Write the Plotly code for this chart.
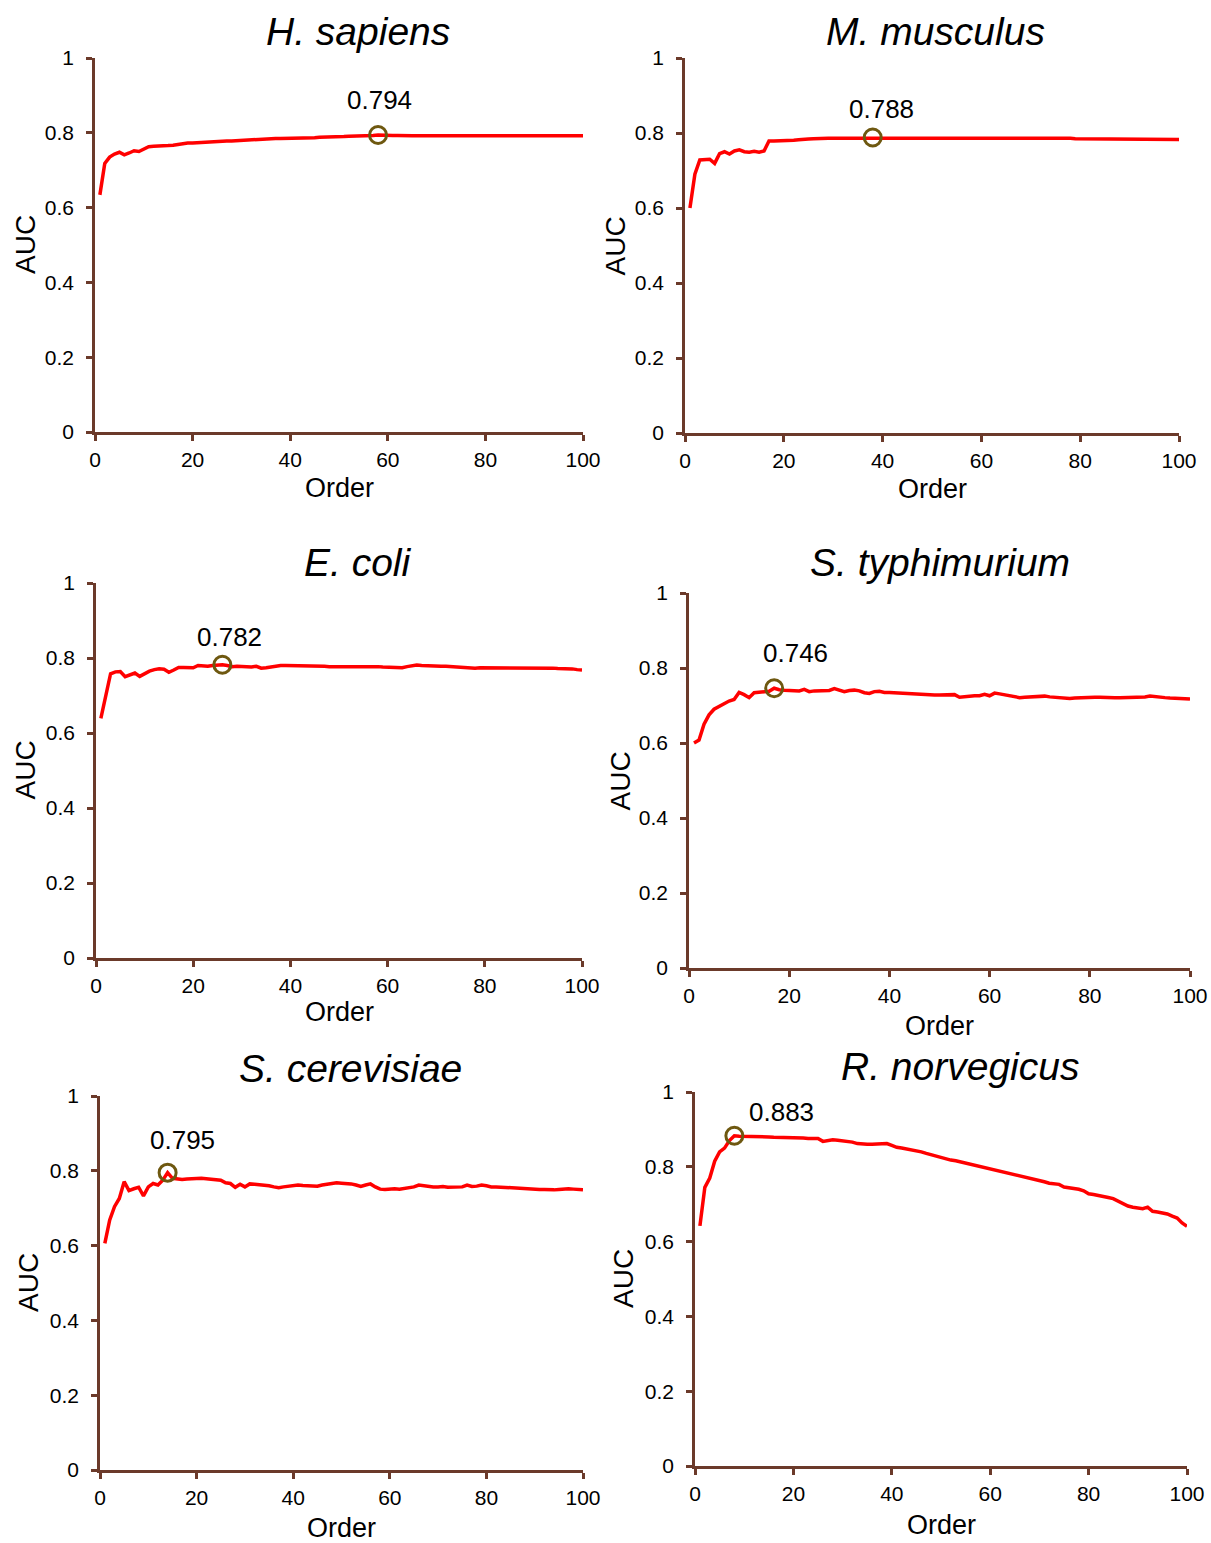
import plotly.graph_objects as go

# AUC versus model order for six species
order = list(range(1, 101))

species = ["H. sapiens", "M. musculus", "E. coli",
           "S. typhimurium", "S. cerevisiae", "R. norvegicus"]

auc_h_sapiens = [
    0.634, 0.718, 0.735, 0.743, 0.748, 0.741, 0.746, 0.752, 0.750, 0.757,
    0.763, 0.764, 0.764, 0.765, 0.766, 0.767, 0.769, 0.772, 0.773, 0.773,
    0.774, 0.774, 0.775, 0.776, 0.776, 0.777, 0.778, 0.778, 0.779, 0.779,
    0.780, 0.781, 0.782, 0.784, 0.784, 0.784, 0.785, 0.785, 0.785, 0.786,
    0.786, 0.786, 0.787, 0.787, 0.787, 0.788, 0.788, 0.788, 0.789, 0.790,
    0.790, 0.791, 0.791, 0.791, 0.792, 0.793, 0.793, 0.794, 0.793, 0.793,
    0.793, 0.793, 0.792, 0.792, 0.792, 0.792, 0.793, 0.792, 0.792, 0.792,
    0.792, 0.792, 0.792, 0.792, 0.792, 0.792, 0.793, 0.792, 0.792, 0.792,
    0.792, 0.792, 0.792, 0.792, 0.793, 0.793, 0.793, 0.793, 0.793, 0.793,
    0.793, 0.793, 0.793, 0.793, 0.793, 0.793, 0.793, 0.792, 0.792, 0.792,
]

auc_m_musculus = [
    0.600, 0.690, 0.728, 0.729, 0.730, 0.719, 0.745, 0.750, 0.744, 0.752,
    0.755, 0.750, 0.749, 0.751, 0.749, 0.752, 0.779, 0.779, 0.779, 0.779,
    0.780, 0.781, 0.782, 0.782, 0.784, 0.785, 0.786, 0.786, 0.786, 0.786,
    0.786, 0.787, 0.787, 0.787, 0.787, 0.787, 0.788, 0.788, 0.787, 0.787,
    0.787, 0.787, 0.786, 0.786, 0.786, 0.787, 0.787, 0.787, 0.787, 0.787,
    0.787, 0.787, 0.787, 0.787, 0.787, 0.787, 0.787, 0.787, 0.787, 0.787,
    0.787, 0.787, 0.787, 0.787, 0.787, 0.787, 0.787, 0.787, 0.787, 0.787,
    0.787, 0.787, 0.787, 0.787, 0.787, 0.786, 0.786, 0.786, 0.785, 0.785,
    0.785, 0.785, 0.785, 0.785, 0.785, 0.784, 0.784, 0.784, 0.784, 0.784,
    0.784, 0.784, 0.784, 0.784, 0.783, 0.783, 0.783, 0.783, 0.783, 0.783,
]

auc_e_coli = [
    0.639, 0.700, 0.758, 0.763, 0.764, 0.750, 0.756, 0.760, 0.751, 0.758,
    0.765, 0.769, 0.771, 0.770, 0.762, 0.768, 0.775, 0.775, 0.775, 0.774,
    0.780, 0.778, 0.778, 0.780, 0.781, 0.782, 0.780, 0.777, 0.778, 0.777,
    0.776, 0.776, 0.778, 0.773, 0.774, 0.776, 0.779, 0.780, 0.780, 0.780,
    0.779, 0.780, 0.780, 0.780, 0.779, 0.778, 0.778, 0.777, 0.777, 0.778,
    0.779, 0.779, 0.779, 0.779, 0.778, 0.778, 0.777, 0.777, 0.776, 0.776,
    0.775, 0.774, 0.774, 0.777, 0.779, 0.781, 0.780, 0.779, 0.779, 0.778,
    0.778, 0.778, 0.777, 0.776, 0.776, 0.775, 0.773, 0.773, 0.774, 0.774,
    0.774, 0.773, 0.773, 0.774, 0.774, 0.773, 0.774, 0.775, 0.775, 0.774,
    0.774, 0.774, 0.773, 0.773, 0.772, 0.772, 0.772, 0.771, 0.769, 0.768,
]

auc_s_typhimurium = [
    0.600, 0.608, 0.650, 0.675, 0.690, 0.697, 0.703, 0.712, 0.716, 0.735,
    0.729, 0.721, 0.734, 0.735, 0.737, 0.738, 0.746, 0.742, 0.741, 0.740,
    0.740, 0.739, 0.743, 0.737, 0.739, 0.740, 0.740, 0.740, 0.745, 0.741,
    0.737, 0.740, 0.741, 0.739, 0.734, 0.732, 0.737, 0.738, 0.735, 0.735,
    0.734, 0.733, 0.732, 0.732, 0.731, 0.730, 0.729, 0.728, 0.728, 0.728,
    0.728, 0.729, 0.729, 0.722, 0.724, 0.725, 0.726, 0.726, 0.730, 0.726,
    0.733, 0.731, 0.728, 0.725, 0.723, 0.721, 0.722, 0.723, 0.723, 0.724,
    0.725, 0.723, 0.722, 0.722, 0.719, 0.719, 0.720, 0.721, 0.722, 0.723,
    0.722, 0.722, 0.721, 0.721, 0.721, 0.721, 0.721, 0.721, 0.721, 0.722,
    0.723, 0.725, 0.723, 0.721, 0.721, 0.720, 0.720, 0.719, 0.718, 0.717,
]

auc_s_cerevisiae = [
    0.606, 0.668, 0.704, 0.726, 0.771, 0.747, 0.752, 0.756, 0.733, 0.757,
    0.766, 0.762, 0.775, 0.795, 0.780, 0.778, 0.777, 0.778, 0.779, 0.779,
    0.780, 0.779, 0.778, 0.777, 0.775, 0.768, 0.766, 0.756, 0.764, 0.757,
    0.765, 0.764, 0.763, 0.762, 0.760, 0.757, 0.755, 0.757, 0.759, 0.761,
    0.762, 0.761, 0.761, 0.760, 0.759, 0.762, 0.764, 0.767, 0.768, 0.767,
    0.767, 0.765, 0.762, 0.758, 0.762, 0.765, 0.757, 0.751, 0.750, 0.752,
    0.752, 0.751, 0.753, 0.753, 0.757, 0.762, 0.760, 0.758, 0.757, 0.757,
    0.758, 0.756, 0.757, 0.756, 0.757, 0.762, 0.758, 0.759, 0.762, 0.760,
    0.757, 0.757, 0.756, 0.755, 0.755, 0.754, 0.753, 0.753, 0.752, 0.751,
    0.750, 0.750, 0.749, 0.749, 0.750, 0.752, 0.752, 0.751, 0.750, 0.749,
]

auc_r_norvegicus = [
    0.642, 0.745, 0.770, 0.815, 0.840, 0.850, 0.870, 0.883, 0.882, 0.882,
    0.882, 0.881, 0.881, 0.880, 0.880, 0.879, 0.879, 0.879, 0.878, 0.878,
    0.877, 0.877, 0.876, 0.876, 0.876, 0.868, 0.870, 0.872, 0.871, 0.870,
    0.869, 0.866, 0.862, 0.860, 0.860, 0.860, 0.860, 0.860, 0.862, 0.857,
    0.852, 0.850, 0.848, 0.846, 0.844, 0.840, 0.836, 0.832, 0.828, 0.824,
    0.821, 0.818, 0.816, 0.813, 0.810, 0.806, 0.803, 0.799, 0.796, 0.794,
    0.792, 0.789, 0.786, 0.782, 0.778, 0.776, 0.774, 0.771, 0.767, 0.764,
    0.760, 0.756, 0.755, 0.753, 0.746, 0.744, 0.743, 0.740, 0.736, 0.728,
    0.726, 0.724, 0.721, 0.718, 0.715, 0.708, 0.700, 0.695, 0.692, 0.689,
    0.688, 0.692, 0.681, 0.679, 0.676, 0.674, 0.668, 0.663, 0.650, 0.641,
]

series = [auc_h_sapiens, auc_m_musculus, auc_e_coli,
          auc_s_typhimurium, auc_s_cerevisiae, auc_r_norvegicus]

# order at which each species reaches its best AUC
best_order = [58, 38, 26, 17, 14, 8]

x_ticks = [0, 20, 40, 60, 80, 100]
y_ticks = [0, 0.2, 0.4, 0.6, 0.8, 1]

W, H = 1211, 1543

# plot boxes in pixels: left, right, top, bottom
boxes = [
    (95, 583, 58, 432),
    (685, 1179, 58, 433),
    (96, 582, 583, 958),
    (689, 1190, 593, 968),
    (100, 583, 1096, 1470),
    (695, 1187, 1092, 1466),
]
title_pos = [(358, 32), (935, 32), (358, 562), (940, 562), (350, 1068), (960, 1066)]
order_label_dy = [56, 56, 54, 58, 58, 59]
auc_label_dx = [70, 70, 71, 69, 72, 72]
# pixel offsets of value labels from their markers
value_label_shift = [(1, 35), (9, 28), (7, 28), (21, 35), (15, 33), (47, 24)]

FONT = "Liberation Sans, Arial, sans-serif"
AXIS_COLOR = "#6B3A2A"

fig = go.Figure()
layout = dict(
    template="none",
    width=W, height=H,
    margin=dict(l=0, r=0, t=0, b=0, pad=0),
    paper_bgcolor="white", plot_bgcolor="white",
    showlegend=False,
    font=dict(family=FONT, color="black"),
)
annotations = []

def px(x):
    return x / W

def py(y):
    return 1 - y / H

for i, (name, vals, best, box) in enumerate(zip(species, series, best_order, boxes)):
    n = i + 1
    xa = "x" if n == 1 else f"x{n}"
    ya = "y" if n == 1 else f"y{n}"
    l, r, t, b = box

    fig.add_trace(go.Scatter(
        x=order, y=vals, mode="lines",
        line=dict(color="#FF0000", width=3.5),
        xaxis=xa, yaxis=ya, hoverinfo="skip",
    ))
    best_val = vals[best - 1]
    fig.add_trace(go.Scatter(
        x=[best], y=[best_val], mode="markers",
        marker=dict(symbol="circle-open", size=17, color="#6E5810",
                    line=dict(width=3, color="#6E5810")),
        xaxis=xa, yaxis=ya, cliponaxis=False, hoverinfo="skip",
    ))
    dx, dy = value_label_shift[i]
    annotations.append(dict(
        x=best, y=best_val, xref=xa, yref=ya,
        text=f"{best_val:.3f}", showarrow=False,
        xshift=dx, yshift=dy,
        font=dict(size=26, family=FONT, color="black"),
    ))

    axis_common = dict(
        showline=True, linecolor=AXIS_COLOR, linewidth=2.5,
        ticks="outside", ticklen=6, tickwidth=2.5, tickcolor=AXIS_COLOR,
        showgrid=False, zeroline=False, mirror=False, automargin=False,
        tickfont=dict(size=21, family=FONT, color="black"),
    )
    layout["xaxis" if n == 1 else f"xaxis{n}"] = dict(
        axis_common, domain=[px(l), px(r)], range=[0, 100],
        tickvals=x_ticks, anchor=ya, ticklabelstandoff=1,
    )
    layout["yaxis" if n == 1 else f"yaxis{n}"] = dict(
        axis_common, domain=[py(b), py(t)], range=[0, 1],
        tickvals=y_ticks, ticktext=[f"{v:g}" for v in y_ticks], anchor=xa,
        ticklabelstandoff=8,
    )

    tx, ty = title_pos[i]
    annotations.append(dict(
        x=px(tx), y=py(ty), xref="paper", yref="paper",
        text=f"<i>{name}</i>", showarrow=False,
        xanchor="center", yanchor="middle",
        font=dict(size=39, family=FONT, color="black"),
    ))
    annotations.append(dict(
        x=px((l + r) / 2), y=py(b + order_label_dy[i]), xref="paper", yref="paper",
        text="Order", showarrow=False, xanchor="center", yanchor="middle",
        font=dict(size=27, family=FONT, color="black"),
    ))
    annotations.append(dict(
        x=px(l - auc_label_dx[i]), y=py((t + b) / 2), xref="paper", yref="paper",
        text="AUC", showarrow=False, textangle=-90,
        xanchor="center", yanchor="middle",
        font=dict(size=28, family=FONT, color="black"),
    ))

layout["annotations"] = annotations
fig.update_layout(**layout)
fig.write_html("out.html")
